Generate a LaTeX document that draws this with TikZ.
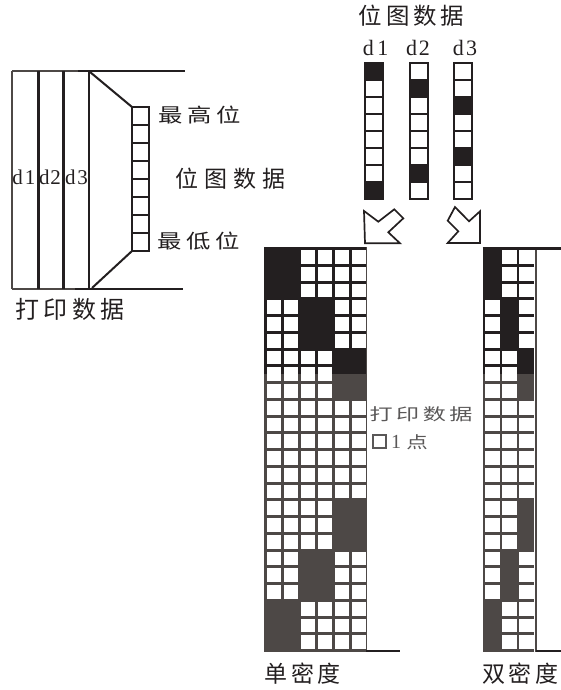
\documentclass[tikz,border=0pt]{standalone}
\usepackage{fontspec}
\usepackage{graphicx}
\newfontfamily\cjk{Noto Sans CJK SC}
\newfontfamily\serifdig{Liberation Serif}
\definecolor{ink}{HTML}{231F20}
\definecolor{inkgray}{HTML}{4D4846}
\definecolor{labgray}{HTML}{5A5858}
\newcommand\cjl[3]{\scalebox{#2}[1]{\fontsize{#1}{#1}\selectfont\cjk #3}}
\newcommand\latn[2]{{\fontsize{#1}{#1}\selectfont\serifdig #2}}
\newcommand\pixgrid[3]{%
  \fill (#1,247) rectangle ({#1+#2*17},652);
  \foreach \c in {1,...,#2} \foreach \r in {1,...,24}
    \fill[white] ({#1+(\c-1)*17+2.7},{247+(\r-1)*16.75+3}) rectangle ({#1+\c*17},{247+\r*16.75});
  \foreach \b/\k in {0/0,1/1,2/2,5/2,6/1,7/0}
    \fill ({#1+\k*#3*17},{247+3*\b*16.75}) rectangle ({#1+(\k+1)*#3*17},{247+(3*\b+3)*16.75});
}
\tikzset{
  lbl/.style={inner sep=0pt, text=ink},
  thin edge/.style={line width=1.4pt, draw=inkgray},
  thick edge/.style={line width=2.8pt, draw=ink},
  cellbox/.style={line width=2.6pt, draw=ink},
  blockarrow/.style={line width=1.7pt, draw=ink, line join=miter, fill=white}
}
\begin{document}
\begin{tikzpicture}[x=1pt,y=-1pt]
\useasboundingbox (0,0) rectangle (561,690);

% ---------- left: print data / bitmap data ----------
\draw[thin edge] (12,71) -- (12,289);
\draw[thin edge] (12,71) -- (78,71);
\draw[thin edge] (12,289) -- (75,289);
\draw[thick edge] (78,71) -- (185,71);
\draw[thick edge] (75,289) -- (183,289);
\draw[line width=3pt, ink] (38,71) -- (38,289);
\draw[line width=3pt, ink] (63,71) -- (63,289);
\draw[line width=2.3pt, ink] (89,71) -- (89,289);
\draw[line width=2pt, ink] (90,72) -- (132,107);
\draw[line width=2pt, ink] (92,288) -- (132,251);
\foreach \i in {0,...,7} \draw[cellbox] (132,{107+18*\i}) rectangle +(17,18);

\node[lbl] (ld1) at (24,177) {\latn{21}{d\kern2pt 1}};
\node[lbl] (ld2) at (50,177) {\latn{21}{d\kern1pt 2}};
\node[lbl] (ld3) at (76.5,177) {\latn{21}{d\kern2pt 3}};
\node[lbl] (msb) at (199.5,115) {\cjl{19.5}{1.25}{最\kern3.7pt 高\kern3.7pt 位}};
\node[lbl] (lsb) at (199,241) {\cjl{19.5}{1.25}{最\kern3.7pt 低\kern3.7pt 位}};
\node[lbl] (bmp1) at (230.5,178.5) {\cjl{23}{1}{位\kern5.7pt 图\kern5.7pt 数\kern5.7pt 据}};
\node[lbl] (prt1) at (70,309.5) {\cjl{24}{1}{打\kern4.3pt 印\kern4.3pt 数\kern4.3pt 据}};

% ---------- top right: bitmap columns ----------
\node[lbl] (bmp2) at (411.5,16) {\cjl{23}{1.02}{位\kern3.8pt 图\kern3.8pt 数\kern3.8pt 据}};
\node[lbl] (td1) at (375.5,48) {\latn{22}{d\kern3.5pt 1}};
\node[lbl] (td2) at (418,48) {\latn{22}{d\kern2pt 2}};
\node[lbl] (td3) at (465,48) {\latn{22}{d\kern2.5pt 3}};
\foreach \x/\a/\b in {365/1/8,410/2/7,454/3/6} {
  \fill[ink] (\x,{63+(\a-1)*17}) rectangle +(18,17);
  \fill[ink] (\x,{63+(\b-1)*17}) rectangle +(18,17);
  \foreach \i in {0,...,7} \draw[cellbox] (\x,{63+17*\i}) rectangle +(18,17);
}

% block arrows
\draw[blockarrow] (364,211) -- (378.3,221.7) -- (394.3,209.3) -- (403.3,218.3)
  -- (388.3,232.3) -- (400,243.3) -- (365,243.3) -- cycle;
\draw[blockarrow] (480,211.3) -- (480,243) -- (447.7,243) -- (458.3,231.3)
  -- (447.7,220.7) -- (455,207) -- (469,221.3) -- cycle;

% ---------- dot grids ----------
\begin{scope}[color=ink]
  \pixgrid{264}{6}{2}
  \pixgrid{482.5}{3}{1}
\end{scope}
\begin{scope}
  \clip (0,374) rectangle (561,690);
  \begin{scope}[color=inkgray]
    \pixgrid{264}{6}{2}
    \pixgrid{482.5}{3}{1}
  \end{scope}
\end{scope}
\draw[line width=1.3pt, inkgray] (366.6,247) -- (366.6,652);
\draw[line width=1.5pt, inkgray] (535.8,248) -- (535.8,652);
\draw[line width=2.6pt, ink] (482.5,248.5) -- (561,248.5);
\draw[line width=2.6pt, ink] (366,651) -- (400,651);
\draw[line width=2.6pt, ink] (535.8,651) -- (561,651);

\node[lbl, text=labgray] (prt2) at (421,414.5) {\cjl{16.5}{1.4}{打\kern2.5pt 印\kern2.5pt 数\kern2.5pt 据}};
\draw[line width=1.5pt, labgray] (373,435) rectangle (386,448);
\node[lbl, text=labgray] (one) at (396,442) {\latn{20}{1}};
\node[lbl, text=labgray] (dot) at (417,442) {\cjl{16.5}{1.3}{点}};

\node[lbl] (single) at (302.5,674) {\cjl{23}{1}{单\kern3.5pt 密\kern3.5pt 度}};
\node[lbl] (double) at (520.5,674) {\cjl{23}{1}{双\kern4pt 密\kern4pt 度}};
\end{tikzpicture}
\end{document}
